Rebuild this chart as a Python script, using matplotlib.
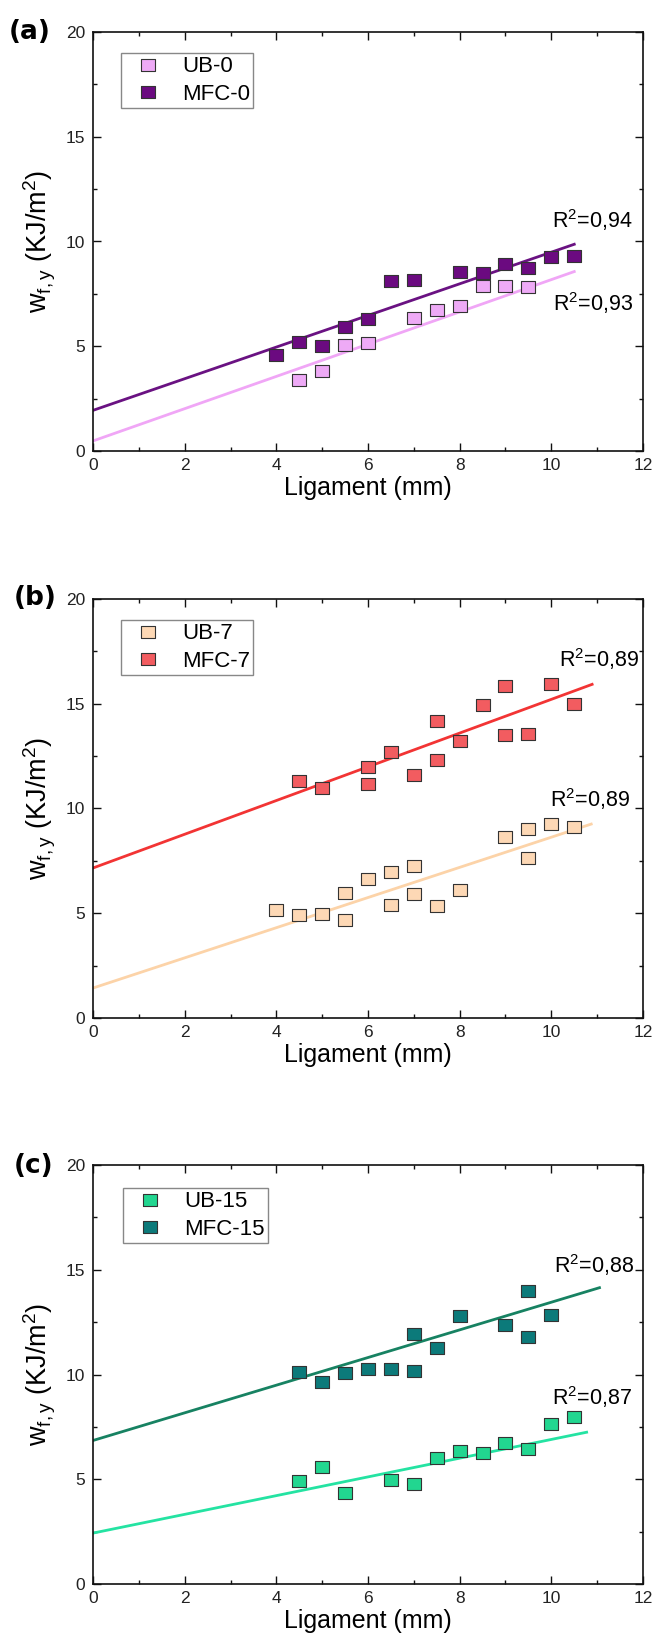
import numpy as np
import matplotlib.pyplot as plt
from matplotlib.ticker import MultipleLocator

plt.rcParams['font.family'] = ['Liberation Sans', 'DejaVu Sans']
plt.rcParams['mathtext.fontset'] = 'custom'
plt.rcParams['mathtext.rm'] = 'Liberation Sans'
plt.rcParams['mathtext.it'] = 'Liberation Sans:italic'

# --- work of fracture vs ligament length ---
lig_ub0 = [4.5, 5, 5.5, 6, 7, 7.5, 8, 8.5, 9, 9.5]
wf_ub0 = [3.41, 3.81, 5.08, 5.16, 6.35, 6.73, 6.94, 7.86, 7.86, 7.83]
lig_mfc0 = [4, 4.5, 5, 5.5, 6, 6.5, 7, 8, 8.5, 9, 9.5, 10, 10.5]
wf_mfc0 = [4.60, 5.21, 5.00, 5.90, 6.30, 8.10, 8.16, 8.56, 8.49, 8.92, 8.73, 9.24, 9.32]

lig_ub7 = [4, 4.5, 5, 5.5, 5.5, 6, 6.5, 6.5, 7, 7, 7.5, 8, 9, 9.5, 9.5, 10, 10.5]
wf_ub7 = [5.16, 4.92, 4.98, 5.98, 4.67, 6.64, 6.97, 5.39, 7.25, 5.92, 5.34, 6.11,
          8.66, 9.03, 7.62, 9.25, 9.10]
lig_mfc7 = [4.5, 5, 6, 6, 6.5, 7, 7.5, 7.5, 8, 8.5, 9, 9, 9.5, 10, 10.5]
wf_mfc7 = [11.33, 11.00, 11.98, 11.18, 12.70, 11.59, 14.20, 12.30, 13.21, 14.92,
           15.84, 13.49, 13.57, 15.95, 14.97]

lig_ub15 = [4.5, 5, 5.5, 6.5, 7, 7.5, 8, 8.5, 9, 9.5, 10, 10.5]
wf_ub15 = [4.93, 5.57, 4.33, 4.97, 4.78, 6.03, 6.34, 6.23, 6.71, 6.46, 7.64, 7.98]
lig_mfc15 = [4.5, 5, 5.5, 6, 6.5, 7, 7, 7.5, 8, 9, 9.5, 9.5, 10]
wf_mfc15 = [10.14, 9.66, 10.07, 10.26, 10.26, 11.92, 10.19, 11.28, 12.79, 12.35,
            13.99, 11.80, 12.86]

# linear fits: intercept, slope, last x of the drawn line
fit_ub0 = (0.48, 0.770, 10.5)
fit_mfc0 = (1.94, 0.755, 10.5)
fit_ub7 = (1.43, 0.720, 10.87)
fit_mfc7 = (7.16, 0.805, 10.89)
fit_ub15 = (2.43, 0.447, 10.77)
fit_mfc15 = (6.85, 0.660, 11.05)

r2_labels = [("0,94", "0,93"), ("0,89", "0,89"), ("0,88", "0,87")]
r2_pos = [((10.01, 11.03), (10.04, 7.06)),
          ((10.17, 17.14), (9.97, 10.45)),
          ((10.06, 15.23), (10.01, 8.93))]

panels = [
    ("(a)", ("UB-0", lig_ub0, wf_ub0, fit_ub0, '#EEAAF6', '#F0A6F6'),
            ("MFC-0", lig_mfc0, wf_mfc0, fit_mfc0, '#6B0A80', '#6A1282')),
    ("(b)", ("UB-7", lig_ub7, wf_ub7, fit_ub7, '#FDD8B5', '#FCD3A8'),
            ("MFC-7", lig_mfc7, wf_mfc7, fit_mfc7, '#F25C60', '#F23434')),
    ("(c)", ("UB-15", lig_ub15, wf_ub15, fit_ub15, '#22D690', '#24E3A2'),
            ("MFC-15", lig_mfc15, wf_mfc15, fit_mfc15, '#0C7A7A', '#178262')),
]

# axes boxes in pixels: left, top, right, bottom
W, H = 654, 1644
boxes = [(93, 32, 643, 451), (93, 599, 643, 1018), (93, 1165, 643, 1584)]
legend_anchor = [(0.051, 0.950), (0.051, 0.950), (0.055, 0.945)]
tag_pos = [(9, 32), (14, 598), (14, 1166)]

# slightly wide square marker
sq = [(-1.22, -1), (1.22, -1), (1.22, 1), (-1.22, 1), (-1.22, -1)]

fig = plt.figure(figsize=(W / 100, H / 100), dpi=100)

for i, (tag, ub, mfc) in enumerate(panels):
    l, t, r, b = boxes[i]
    ax = fig.add_axes([l / W, 1 - b / H, (r - l) / W, (b - t) / H])

    # fit lines first, points on top
    for name, x, y, fit, mcol, lcol in (ub, mfc):
        b0, b1, xend = fit
        xs = np.array([0.0, xend])
        ax.plot(xs, b0 + b1 * xs, color=lcol, lw=2.0, zorder=2)
    for name, x, y, fit, mcol, lcol in (ub, mfc):
        ax.plot(x, y, ls='none', marker=sq, ms=10.5, mfc=mcol, mec='#333333',
                mew=0.8, label=name, zorder=3)

    (x1, y1), (x2, y2) = r2_pos[i]
    ax.text(x1, y1, "R$^{\\mathregular{2}}$=" + r2_labels[i][0], fontsize=15.5,
            ha='left', va='center')
    ax.text(x2, y2, "R$^{\\mathregular{2}}$=" + r2_labels[i][1], fontsize=15.5,
            ha='left', va='center')

    ax.set_xlim(0, 12)
    ax.set_ylim(0, 20)
    ax.xaxis.set_major_locator(MultipleLocator(2))
    ax.xaxis.set_minor_locator(MultipleLocator(1))
    ax.yaxis.set_major_locator(MultipleLocator(5))
    ax.yaxis.set_minor_locator(MultipleLocator(2.5))
    ax.tick_params(which='both', direction='in', top=True, right=True,
                   width=1.0, color='#111111')
    ax.tick_params(which='major', length=5.5, labelsize=12.5, labelcolor='#222222')
    ax.tick_params(which='minor', length=3)
    ax.tick_params(axis='x', pad=5)
    ax.tick_params(axis='y', pad=5.5)
    for s in ax.spines.values():
        s.set_linewidth(1.2)
        s.set_color('#111111')

    ax.set_xlabel("Ligament (mm)", fontsize=18, labelpad=2)
    ax.set_ylabel("w$_{\\mathregular{f,y}}$ (KJ/m$^{\\mathregular{2}}$)", fontsize=19.5)
    ax.yaxis.set_label_coords(-0.0636, 0.5)

    leg = ax.legend(loc='upper left', bbox_to_anchor=legend_anchor[i],
                    borderaxespad=0, fontsize=16, fancybox=False, frameon=True,
                    framealpha=1, edgecolor='#888888', borderpad=0.15,
                    handlelength=2.1, handletextpad=0.5, labelspacing=0.28)
    leg.get_frame().set_linewidth(1.0)

    tx, ty = tag_pos[i]
    fig.text(tx / W, 1 - ty / H, tag, fontsize=19, fontweight='bold',
             family='DejaVu Sans', ha='left', va='center')

fig.savefig("out.png", dpi=100)
